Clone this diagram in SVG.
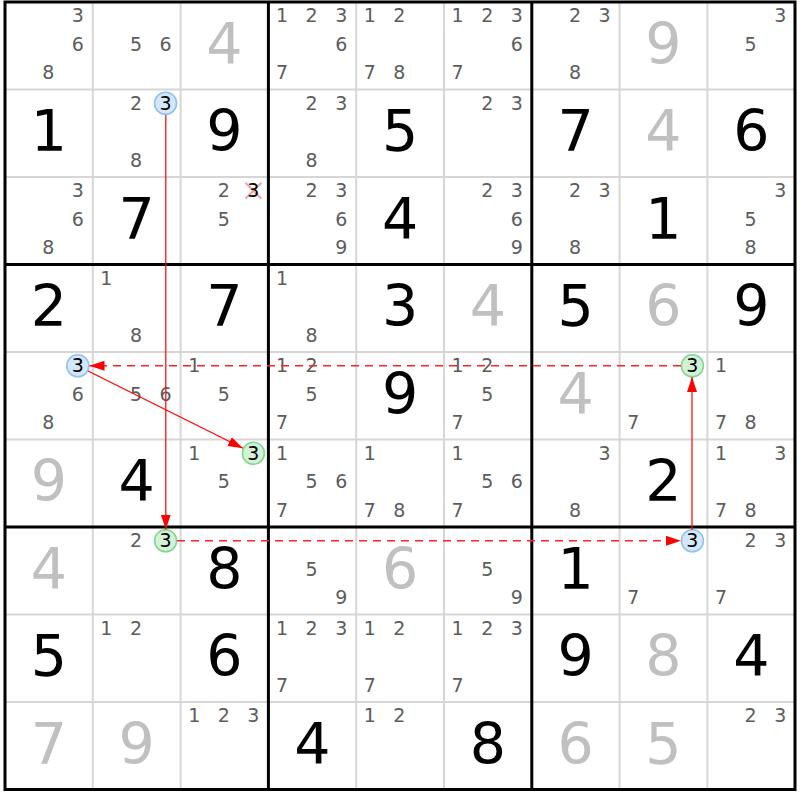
<svg xmlns="http://www.w3.org/2000/svg" width="800" height="800" viewBox="0 0 800 800">
<style>
text{font-family:"DejaVu Sans","Liberation Sans",sans-serif;text-anchor:middle}
.c{font-size:19px;fill:#5c5c5c}
.k{font-size:19px;fill:#000}
.g{font-size:57px;fill:#000}
.s{font-size:57px;fill:#c0c0c0}
.thin{stroke:#d6d6d6;stroke-width:2}
.thick{stroke:#000;stroke-width:3}
.blue{fill:#d5e7fa;stroke:#8ec2f4;stroke-width:1.6}
.green{fill:#d3f1d7;stroke:#7fd88e;stroke-width:1.6}
.ln{stroke:#ff0000;stroke-width:1.2;fill:none}
.dash{stroke:#ff2020;stroke-width:1.6;stroke-dasharray:8 6;fill:none}
</style>
<defs>
<marker id="ah" markerUnits="userSpaceOnUse" markerWidth="16" markerHeight="12" refX="15" refY="5" orient="auto">
<path d="M0,0 L15,5 L0,10 z" fill="#ff0000"/>
</marker>
</defs>
<rect x="0" y="0" width="800" height="800" fill="#fff"/>
<g id="grid">
<g class="thin">
<line x1="92.8" y1="2" x2="92.8" y2="789.5"/><line x1="180.6" y1="2" x2="180.6" y2="789.5"/>
<line x1="356.2" y1="2" x2="356.2" y2="789.5"/><line x1="444" y1="2" x2="444" y2="789.5"/>
<line x1="619.6" y1="2" x2="619.6" y2="789.5"/><line x1="707.4" y1="2" x2="707.4" y2="789.5"/>
<line x1="5" y1="89.5" x2="795" y2="89.5"/><line x1="5" y1="177" x2="795" y2="177"/>
<line x1="5" y1="352" x2="795" y2="352"/><line x1="5" y1="439.5" x2="795" y2="439.5"/>
<line x1="5" y1="614.5" x2="795" y2="614.5"/><line x1="5" y1="702" x2="795" y2="702"/>
</g>
<g class="thick">
<line x1="268.4" y1="2" x2="268.4" y2="789.5"/><line x1="531.8" y1="2" x2="531.8" y2="789.5"/>
<line x1="5" y1="264.5" x2="795" y2="264.5"/><line x1="5" y1="527" x2="795" y2="527"/>
<rect x="5" y="2" width="790" height="787.5" fill="none"/>
</g>
</g>

<!-- Row 1 -->
<g id="r1c1" transform="translate(5,2)"><text class="c" x="72.8" y="20.3">3</text><text class="c" x="72.8" y="48.7">6</text><text class="c" x="43.2" y="77.1">8</text></g>
<g id="r1c2" transform="translate(92.8,2)"><text class="c" x="43.2" y="48.7">5</text><text class="c" x="72.8" y="48.7">6</text></g>
<g id="r1c3" transform="translate(180.6,2)"><text class="s" x="43.9" y="61.5">4</text></g>
<g id="r1c4" transform="translate(268.4,2)"><text class="c" x="13.6" y="20.3">1</text><text class="c" x="43.2" y="20.3">2</text><text class="c" x="72.8" y="20.3">3</text><text class="c" x="72.8" y="48.7">6</text><text class="c" x="13.6" y="77.1">7</text></g>
<g id="r1c5" transform="translate(356.2,2)"><text class="c" x="13.6" y="20.3">1</text><text class="c" x="43.2" y="20.3">2</text><text class="c" x="13.6" y="77.1">7</text><text class="c" x="43.2" y="77.1">8</text></g>
<g id="r1c6" transform="translate(444,2)"><text class="c" x="13.6" y="20.3">1</text><text class="c" x="43.2" y="20.3">2</text><text class="c" x="72.8" y="20.3">3</text><text class="c" x="72.8" y="48.7">6</text><text class="c" x="13.6" y="77.1">7</text></g>
<g id="r1c7" transform="translate(531.8,2)"><text class="c" x="43.2" y="20.3">2</text><text class="c" x="72.8" y="20.3">3</text><text class="c" x="43.2" y="77.1">8</text></g>
<g id="r1c8" transform="translate(619.6,2)"><text class="s" x="43.9" y="61.5">9</text></g>
<g id="r1c9" transform="translate(707.4,2)"><text class="c" x="72.8" y="20.3">3</text><text class="c" x="43.2" y="48.7">5</text></g>

<!-- Row 2 -->
<g id="r2c1" transform="translate(5,89.5)"><text class="g" x="43.9" y="61.5">1</text></g>
<g id="r2c2" transform="translate(92.8,89.5)"><text class="c" x="43.2" y="20.3">2</text><circle class="blue" cx="72.8" cy="13.8" r="11"/><text class="k" x="72.8" y="20.3">3</text><text class="c" x="43.2" y="77.1">8</text></g>
<g id="r2c3" transform="translate(180.6,89.5)"><text class="g" x="43.9" y="61.5">9</text></g>
<g id="r2c4" transform="translate(268.4,89.5)"><text class="c" x="43.2" y="20.3">2</text><text class="c" x="72.8" y="20.3">3</text><text class="c" x="43.2" y="77.1">8</text></g>
<g id="r2c5" transform="translate(356.2,89.5)"><text class="g" x="43.9" y="61.5">5</text></g>
<g id="r2c6" transform="translate(444,89.5)"><text class="c" x="43.2" y="20.3">2</text><text class="c" x="72.8" y="20.3">3</text></g>
<g id="r2c7" transform="translate(531.8,89.5)"><text class="g" x="43.9" y="61.5">7</text></g>
<g id="r2c8" transform="translate(619.6,89.5)"><text class="s" x="43.9" y="61.5">4</text></g>
<g id="r2c9" transform="translate(707.4,89.5)"><text class="g" x="43.9" y="61.5">6</text></g>

<!-- Row 3 -->
<g id="r3c1" transform="translate(5,177)"><text class="c" x="72.8" y="20.3">3</text><text class="c" x="72.8" y="48.7">6</text><text class="c" x="43.2" y="77.1">8</text></g>
<g id="r3c2" transform="translate(92.8,177)"><text class="g" x="43.9" y="61.5">7</text></g>
<g id="r3c3" transform="translate(180.6,177)"><text class="c" x="43.2" y="20.3">2</text><path d="M64.8,5.8 L80.8,21.8 M80.8,5.8 L64.8,21.8" stroke="#f4a3ab" stroke-width="2" fill="none"/><text class="k" x="72.8" y="20.3">3</text><text class="c" x="43.2" y="48.7">5</text></g>
<g id="r3c4" transform="translate(268.4,177)"><text class="c" x="43.2" y="20.3">2</text><text class="c" x="72.8" y="20.3">3</text><text class="c" x="72.8" y="48.7">6</text><text class="c" x="72.8" y="77.1">9</text></g>
<g id="r3c5" transform="translate(356.2,177)"><text class="g" x="43.9" y="61.5">4</text></g>
<g id="r3c6" transform="translate(444,177)"><text class="c" x="43.2" y="20.3">2</text><text class="c" x="72.8" y="20.3">3</text><text class="c" x="72.8" y="48.7">6</text><text class="c" x="72.8" y="77.1">9</text></g>
<g id="r3c7" transform="translate(531.8,177)"><text class="c" x="43.2" y="20.3">2</text><text class="c" x="72.8" y="20.3">3</text><text class="c" x="43.2" y="77.1">8</text></g>
<g id="r3c8" transform="translate(619.6,177)"><text class="g" x="43.9" y="61.5">1</text></g>
<g id="r3c9" transform="translate(707.4,177)"><text class="c" x="72.8" y="20.3">3</text><text class="c" x="43.2" y="48.7">5</text><text class="c" x="43.2" y="77.1">8</text></g>

<!-- Row 4 -->
<g id="r4c1" transform="translate(5,264.5)"><text class="g" x="43.9" y="61.5">2</text></g>
<g id="r4c2" transform="translate(92.8,264.5)"><text class="c" x="13.6" y="20.3">1</text><text class="c" x="43.2" y="77.1">8</text></g>
<g id="r4c3" transform="translate(180.6,264.5)"><text class="g" x="43.9" y="61.5">7</text></g>
<g id="r4c4" transform="translate(268.4,264.5)"><text class="c" x="13.6" y="20.3">1</text><text class="c" x="43.2" y="77.1">8</text></g>
<g id="r4c5" transform="translate(356.2,264.5)"><text class="g" x="43.9" y="61.5">3</text></g>
<g id="r4c6" transform="translate(444,264.5)"><text class="s" x="43.9" y="61.5">4</text></g>
<g id="r4c7" transform="translate(531.8,264.5)"><text class="g" x="43.9" y="61.5">5</text></g>
<g id="r4c8" transform="translate(619.6,264.5)"><text class="s" x="43.9" y="61.5">6</text></g>
<g id="r4c9" transform="translate(707.4,264.5)"><text class="g" x="43.9" y="61.5">9</text></g>

<!-- Row 5 -->
<g id="r5c1" transform="translate(5,352)"><circle class="blue" cx="72.8" cy="13.8" r="11"/><text class="k" x="72.8" y="20.3">3</text><text class="c" x="72.8" y="48.7">6</text><text class="c" x="43.2" y="77.1">8</text></g>
<g id="r5c2" transform="translate(92.8,352)"><text class="c" x="43.2" y="48.7">5</text><text class="c" x="72.8" y="48.7">6</text></g>
<g id="r5c3" transform="translate(180.6,352)"><text class="c" x="13.6" y="20.3">1</text><text class="c" x="43.2" y="48.7">5</text></g>
<g id="r5c4" transform="translate(268.4,352)"><text class="c" x="13.6" y="20.3">1</text><text class="c" x="43.2" y="20.3">2</text><text class="c" x="43.2" y="48.7">5</text><text class="c" x="13.6" y="77.1">7</text></g>
<g id="r5c5" transform="translate(356.2,352)"><text class="g" x="43.9" y="61.5">9</text></g>
<g id="r5c6" transform="translate(444,352)"><text class="c" x="13.6" y="20.3">1</text><text class="c" x="43.2" y="20.3">2</text><text class="c" x="43.2" y="48.7">5</text><text class="c" x="13.6" y="77.1">7</text></g>
<g id="r5c7" transform="translate(531.8,352)"><text class="s" x="43.9" y="61.5">4</text></g>
<g id="r5c8" transform="translate(619.6,352)"><circle class="green" cx="72.8" cy="13.8" r="11"/><text class="k" x="72.8" y="20.3">3</text><text class="c" x="13.6" y="77.1">7</text></g>
<g id="r5c9" transform="translate(707.4,352)"><text class="c" x="13.6" y="20.3">1</text><text class="c" x="13.6" y="77.1">7</text><text class="c" x="43.2" y="77.1">8</text></g>

<!-- Row 6 -->
<g id="r6c1" transform="translate(5,439.5)"><text class="s" x="43.9" y="61.5">9</text></g>
<g id="r6c2" transform="translate(92.8,439.5)"><text class="g" x="43.9" y="61.5">4</text></g>
<g id="r6c3" transform="translate(180.6,439.5)"><text class="c" x="13.6" y="20.3">1</text><circle class="green" cx="72.8" cy="13.8" r="11"/><text class="k" x="72.8" y="20.3">3</text><text class="c" x="43.2" y="48.7">5</text></g>
<g id="r6c4" transform="translate(268.4,439.5)"><text class="c" x="13.6" y="20.3">1</text><text class="c" x="43.2" y="48.7">5</text><text class="c" x="72.8" y="48.7">6</text><text class="c" x="13.6" y="77.1">7</text></g>
<g id="r6c5" transform="translate(356.2,439.5)"><text class="c" x="13.6" y="20.3">1</text><text class="c" x="13.6" y="77.1">7</text><text class="c" x="43.2" y="77.1">8</text></g>
<g id="r6c6" transform="translate(444,439.5)"><text class="c" x="13.6" y="20.3">1</text><text class="c" x="43.2" y="48.7">5</text><text class="c" x="72.8" y="48.7">6</text><text class="c" x="13.6" y="77.1">7</text></g>
<g id="r6c7" transform="translate(531.8,439.5)"><text class="c" x="72.8" y="20.3">3</text><text class="c" x="43.2" y="77.1">8</text></g>
<g id="r6c8" transform="translate(619.6,439.5)"><text class="g" x="43.9" y="61.5">2</text></g>
<g id="r6c9" transform="translate(707.4,439.5)"><text class="c" x="13.6" y="20.3">1</text><text class="c" x="72.8" y="20.3">3</text><text class="c" x="13.6" y="77.1">7</text><text class="c" x="43.2" y="77.1">8</text></g>

<!-- Row 7 -->
<g id="r7c1" transform="translate(5,527)"><text class="s" x="43.9" y="61.5">4</text></g>
<g id="r7c2" transform="translate(92.8,527)"><text class="c" x="43.2" y="20.3">2</text><circle class="green" cx="72.8" cy="13.8" r="11"/><text class="k" x="72.8" y="20.3">3</text></g>
<g id="r7c3" transform="translate(180.6,527)"><text class="g" x="43.9" y="61.5">8</text></g>
<g id="r7c4" transform="translate(268.4,527)"><text class="c" x="43.2" y="48.7">5</text><text class="c" x="72.8" y="77.1">9</text></g>
<g id="r7c5" transform="translate(356.2,527)"><text class="s" x="43.9" y="61.5">6</text></g>
<g id="r7c6" transform="translate(444,527)"><text class="c" x="43.2" y="48.7">5</text><text class="c" x="72.8" y="77.1">9</text></g>
<g id="r7c7" transform="translate(531.8,527)"><text class="g" x="43.9" y="61.5">1</text></g>
<g id="r7c8" transform="translate(619.6,527)"><circle class="blue" cx="72.8" cy="13.8" r="11"/><text class="k" x="72.8" y="20.3">3</text><text class="c" x="13.6" y="77.1">7</text></g>
<g id="r7c9" transform="translate(707.4,527)"><text class="c" x="43.2" y="20.3">2</text><text class="c" x="72.8" y="20.3">3</text><text class="c" x="13.6" y="77.1">7</text></g>

<!-- Row 8 -->
<g id="r8c1" transform="translate(5,614.5)"><text class="g" x="43.9" y="61.5">5</text></g>
<g id="r8c2" transform="translate(92.8,614.5)"><text class="c" x="13.6" y="20.3">1</text><text class="c" x="43.2" y="20.3">2</text></g>
<g id="r8c3" transform="translate(180.6,614.5)"><text class="g" x="43.9" y="61.5">6</text></g>
<g id="r8c4" transform="translate(268.4,614.5)"><text class="c" x="13.6" y="20.3">1</text><text class="c" x="43.2" y="20.3">2</text><text class="c" x="72.8" y="20.3">3</text><text class="c" x="13.6" y="77.1">7</text></g>
<g id="r8c5" transform="translate(356.2,614.5)"><text class="c" x="13.6" y="20.3">1</text><text class="c" x="43.2" y="20.3">2</text><text class="c" x="13.6" y="77.1">7</text></g>
<g id="r8c6" transform="translate(444,614.5)"><text class="c" x="13.6" y="20.3">1</text><text class="c" x="43.2" y="20.3">2</text><text class="c" x="72.8" y="20.3">3</text><text class="c" x="13.6" y="77.1">7</text></g>
<g id="r8c7" transform="translate(531.8,614.5)"><text class="g" x="43.9" y="61.5">9</text></g>
<g id="r8c8" transform="translate(619.6,614.5)"><text class="s" x="43.9" y="61.5">8</text></g>
<g id="r8c9" transform="translate(707.4,614.5)"><text class="g" x="43.9" y="61.5">4</text></g>

<!-- Row 9 -->
<g id="r9c1" transform="translate(5,702)"><text class="s" x="43.9" y="61.5">7</text></g>
<g id="r9c2" transform="translate(92.8,702)"><text class="s" x="43.9" y="61.5">9</text></g>
<g id="r9c3" transform="translate(180.6,702)"><text class="c" x="13.6" y="20.3">1</text><text class="c" x="43.2" y="20.3">2</text><text class="c" x="72.8" y="20.3">3</text></g>
<g id="r9c4" transform="translate(268.4,702)"><text class="g" x="43.9" y="61.5">4</text></g>
<g id="r9c5" transform="translate(356.2,702)"><text class="c" x="13.6" y="20.3">1</text><text class="c" x="43.2" y="20.3">2</text></g>
<g id="r9c6" transform="translate(444,702)"><text class="g" x="43.9" y="61.5">8</text></g>
<g id="r9c7" transform="translate(531.8,702)"><text class="s" x="43.9" y="61.5">6</text></g>
<g id="r9c8" transform="translate(619.6,702)"><text class="s" x="43.9" y="61.5">5</text></g>
<g id="r9c9" transform="translate(707.4,702)"><text class="c" x="43.2" y="20.3">2</text><text class="c" x="72.8" y="20.3">3</text></g>

<g id="connectors">
<line class="ln" x1="165.8" y1="115" x2="165.8" y2="529.5" marker-end="url(#ah)"/>
<line class="dash" x1="681" y1="365.8" x2="89.5" y2="365.8" marker-end="url(#ah)"/>
<line class="ln" x1="88" y1="371" x2="243" y2="448.3" marker-end="url(#ah)"/>
<line class="ln" x1="692" y1="530" x2="692" y2="377" marker-end="url(#ah)"/>
<line class="dash" x1="177" y1="540.8" x2="681" y2="540.8" marker-end="url(#ah)"/>
</g>
</svg>
